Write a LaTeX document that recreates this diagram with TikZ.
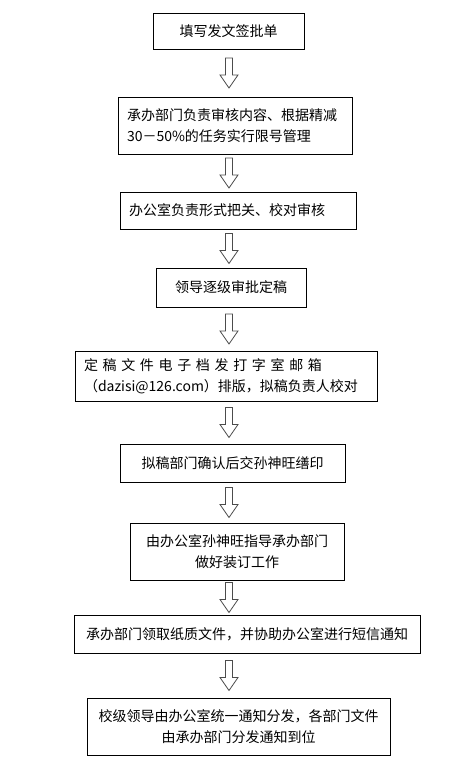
\documentclass[tikz,border=0pt]{standalone}
\usepackage{fontspec}
\newfontfamily\cjk{Noto Sans CJK SC}
\usetikzlibrary{calc}

\tikzset{
    box/.style={draw, line width=1pt, inner sep=0pt, align=center, font=\cjk\fontsize{14}{21}\selectfont},
    leftbox/.style={box, inner xsep=9pt, align=left},
    hollow/.style={draw=black!70, line width=0.8pt, fill=white}
}

\begin{document}
\begin{tikzpicture}[x=1pt, y=-1pt]
            \useasboundingbox (0,0) rectangle (473,771);
            \coordinate (axis) at (229,0);
            \node[box, minimum width=151pt, minimum height=36pt] (apply) at (228.5,31) {填写发文签批单};
            \node[leftbox, text width=216pt, minimum height=57pt] (dept) at (235,125.5) {承办部门负责审核内容、根据精减\\30－50\%的任务实行限号管理};
            \node[leftbox, text width=218pt, minimum height=37pt] (office) at (238,210.5) {办公室负责形式把关、校对审核};
            \node[box, minimum width=150pt, minimum height=39pt] (leader) at (231,287.5) {领导逐级审批定稿};
            \node[leftbox, text width=284pt, minimum height=50pt] (email) at (226,376) {\makebox[\linewidth][s]{定 稿 文 件 电 子 档 发 打 字 室 邮 箱}\\（dazisi@126.com）排版，拟稿负责人校对};
            \node[box, minimum width=225pt, minimum height=38pt] (seal) at (232.5,463) {拟稿部门确认后交孙神旺缮印};
            \node[box, minimum width=214pt, minimum height=57pt] (bind) at (237,551.5) {由办公室孙神旺指导承办部门\\做好装订工作};
            \node[box, minimum width=346pt, minimum height=38pt] (paper) at (247,634) {承办部门领取纸质文件，并协助办公室进行短信通知};
            \node[box, minimum width=303pt, minimum height=57pt] (notify) at (238.5,726.5) {校级领导由办公室统一通知分发，各部门文件\\由承办部门分发通知到位};
            \foreach \a/\b in {apply/dept, dept/office, office/leader, leader/email, email/seal, seal/bind, bind/paper, paper/notify} {
                \coordinate (mid) at ($(\a.south)!0.5!(\b.north)$);
                \coordinate (c) at (mid -| axis);
                \draw[hollow] ([shift={(-3.5,-15)}]c) -- ([shift={(3.5,-15)}]c) -- ([shift={(3.5,2)}]c)
                    -- ([shift={(9,2)}]c) -- ([shift={(0,15)}]c) -- ([shift={(-9,2)}]c) -- ([shift={(-3.5,2)}]c) -- cycle;
            }
        \end{tikzpicture}
\end{document}
